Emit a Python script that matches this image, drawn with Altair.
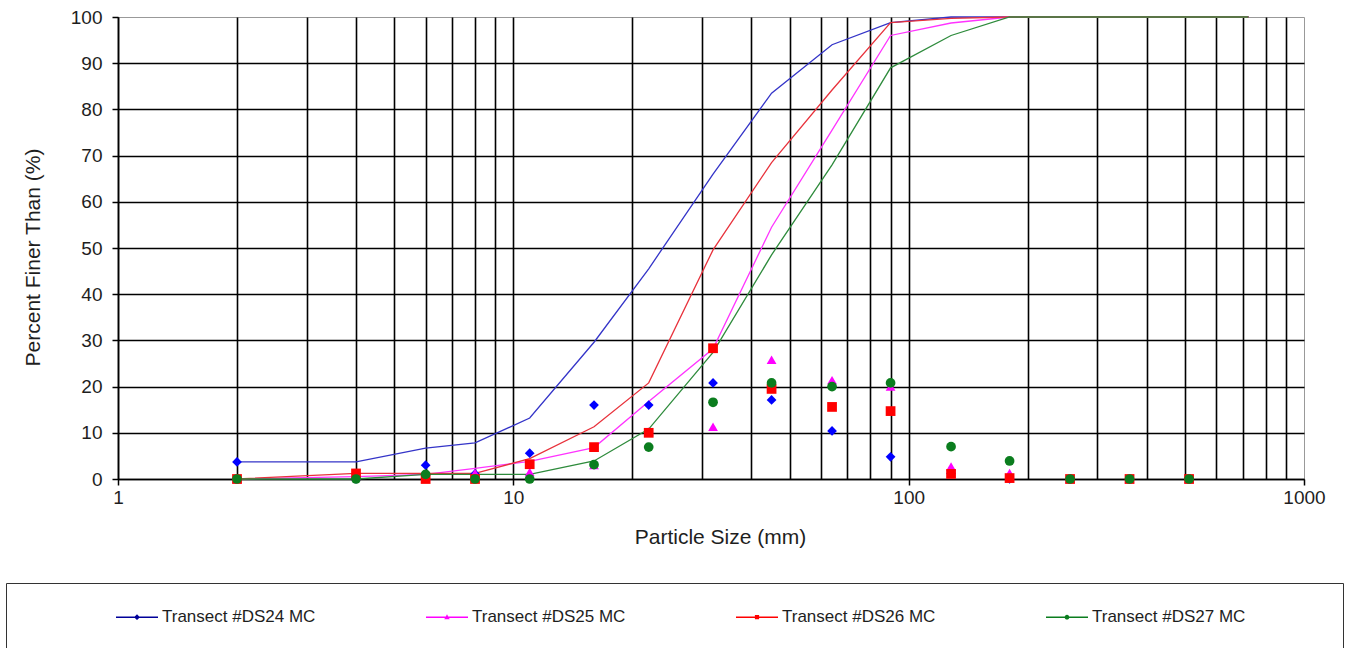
import altair as alt
import pandas as pd

# ---- data ----
sizes = [2, 4, 6, 8, 11, 16, 22, 32, 45, 64, 90, 128, 180, 256, 362, 512, 724]
series_names = ["Transect #DS24 MC", "Transect #DS25 MC", "Transect #DS26 MC", "Transect #DS27 MC"]

# cumulative percent finer (lines)
cum_ds24 = [3.7, 3.7, 6.7, 7.8, 13.2, 29.6, 45.5, 66.0, 83.5, 94.0, 98.8, 100, 100, 100, 100, 100, 100]
cum_ds25 = [0.0, 0.5, 1.0, 2.3, 3.8, 6.8, 16.8, 28.2, 54.5, 75.5, 96.0, 98.7, 100, 100, 100, 100, 100]
cum_ds26 = [0.0, 1.2, 1.2, 1.2, 4.4, 11.3, 20.8, 49.6, 68.5, 84.2, 98.8, 99.7, 100, 100, 100, 100, 100]
cum_ds27 = [0.0, 0.0, 1.0, 1.0, 1.0, 3.9, 10.8, 27.4, 48.5, 68.0, 89.0, 96.0, 100, 100, 100, 100, 100]

# percent in each class (markers)
pct_ds24 = [3.7, 0.0, 3.0, 1.1, 5.6, 16.0, 16.0, 20.8, 17.1, 10.4, 4.8, 1.2, 0.0, 0.0, 0.0, 0.0, None]
pct_ds25 = [0.0, 0.5, 0.5, 1.3, 1.5, 3.0, 10.3, 11.3, 25.8, 21.4, 20.0, 2.7, 1.3, 0.0, 0.0, 0.0, None]
pct_ds26 = [0.0, 1.2, 0.0, 0.0, 3.2, 6.9, 10.0, 28.3, 19.5, 15.6, 14.7, 1.1, 0.2, 0.0, 0.0, 0.0, None]
pct_ds27 = [0.0, 0.0, 1.0, 0.0, 0.0, 3.1, 6.9, 16.6, 20.8, 20.0, 20.8, 7.0, 3.9, 0.0, 0.0, 0.0, None]

x_grid_values = [1, 2, 3, 4, 5, 6, 7, 8, 9, 10, 20, 30, 40, 50, 60, 70, 80, 90,
                 100, 200, 300, 400, 500, 600, 700, 800, 900, 1000]
y_values = [0, 10, 20, 30, 40, 50, 60, 70, 80, 90, 100]

line_colors = ["#3434c8", "#ff33ff", "#e8323c", "#2e8b3c"]
point_colors = ["#0000ff", "#ff00ff", "#ff0000", "#0b7d1e"]
legend_colors = ["#000099", "#ff00ff", "#ff0000", "#0b7d1e"]
point_shapes = ["diamond", "triangle-up", "square", "circle"]
# legend symbol: a short line with a small marker; the lone "M0,1.7" point only
# stretches the legend frame downward past the page edge, as in the reference
bar = "M0,1.7 M-1,-0.035H1V0.035H-1Z "
legend_shapes = [
    bar + "M0,-0.14L0.14,0L0,0.14L-0.14,0Z",
    bar + "M0,-0.14L0.13,0.1L-0.13,0.1Z",
    bar + "M-0.1,-0.1H0.1V0.1H-0.1Z",
    bar + "M-0.11,0A0.11,0.11 0 1 1 0.11,0A0.11,0.11 0 1 1 -0.11,0Z",
]

rows = []
cums = [cum_ds24, cum_ds25, cum_ds26, cum_ds27]
pcts = [pct_ds24, pct_ds25, pct_ds26, pct_ds27]
for name, cum, pct in zip(series_names, cums, pcts):
    for s, c, p in zip(sizes, cum, pct):
        rows.append({"size": s, "series": name, "cum": c, "pct": p})
df = pd.DataFrame(rows)

FONT = "Liberation Sans"
TXT = "#1e1e1e"

x_scale = alt.Scale(type="log", domain=[1, 1000], nice=False)
y_scale = alt.Scale(domain=[0, 100], nice=False)

decade_test = "indexof([1,10,100,1000], datum.value) >= 0"
x_axis = alt.Axis(
    values=x_grid_values, format="d",
    labelExpr=f"{decade_test} ? datum.label : ''",
    grid=True, gridColor="black", gridWidth=1.6,
    gridOpacity={"condition": {"test": "datum.value == 1000", "value": 0}, "value": 1},
    ticks=True, tickSize=6, tickColor="black", tickWidth=1.5,
    tickOpacity={"condition": {"test": decade_test, "value": 1}, "value": 0},
    domainColor="black", domainWidth=1.5,
    labelFont=FONT, labelFontSize=19, labelColor=TXT, labelPadding=3,
    labelFlush=False, labelOverlap=False,
    title="Particle Size (mm)", titleFont=FONT, titleFontSize=21, titleFontWeight="normal",
    titleColor=TXT, titleX=602, titleY=58, titleBaseline="middle", titleAlign="center",
)
y_axis = alt.Axis(
    values=y_values, grid=True, gridColor="black", gridWidth=1.6,
    gridOpacity={"condition": {"test": "datum.value == 100", "value": 0}, "value": 1},
    tickSize=6, tickColor="black", tickWidth=1.5,
    domainColor="black", domainWidth=1.5,
    labelFont=FONT, labelFontSize=19, labelColor=TXT, labelPadding=10,
    labelFlush=False, labelOverlap=False,
    title="Percent Finer Than (%)", titleFont=FONT, titleFontSize=21, titleFontWeight="normal",
    titleColor=TXT, titleX=-85, titleY=240, titleAngle=-90, titleBaseline="middle", titleAlign="center",
)

base = alt.Chart(df)

lines = base.mark_line(strokeWidth=1.3).encode(
    x=alt.X("size:Q", scale=x_scale, axis=x_axis),
    y=alt.Y("cum:Q", scale=y_scale, axis=y_axis),
    color=alt.Color("series:N", scale=alt.Scale(domain=series_names, range=line_colors), legend=None),
    order=alt.Order("size:Q"),
)

points = base.mark_point(filled=True, size=95, opacity=1).encode(
    x=alt.X("size:Q", scale=x_scale),
    y=alt.Y("pct:Q", scale=y_scale),
    color=alt.Color("series:N", scale=alt.Scale(domain=series_names, range=point_colors), legend=None),
    shape=alt.Shape("series:N", scale=alt.Scale(domain=series_names, range=point_shapes), legend=None),
)

filler = "\u2800" * 7
leg = alt.Legend(
    title="\u00a0", titleOrient="left", titlePadding=97, titleFontSize=15,
    orient="none", legendX=-112, legendY=566,
    direction="horizontal", columns=4, columnPadding=110,
    padding=13, strokeColor="#333333", fillColor="white",
    symbolSize=1764, symbolStrokeWidth=0, symbolOpacity=1,
    labelFont=FONT, labelFontSize=17, labelColor=TXT, labelOffset=4, labelLimit=600,
    labelExpr=f"datum.label == 'Transect #DS27 MC' ? datum.label + '{filler}' : datum.label",
)

legend_layer = base.mark_point(filled=True, opacity=0, size=1764).encode(
    x=alt.X("size:Q", scale=x_scale),
    y=alt.Y("pct:Q", scale=y_scale),
    color=alt.Color("series:N", scale=alt.Scale(domain=series_names, range=legend_colors), legend=leg),
    shape=alt.Shape("series:N", scale=alt.Scale(domain=series_names, range=legend_shapes), legend=leg),
)

chart = alt.layer(lines, points, legend_layer).resolve_scale(
    color="independent", shape="independent"
).properties(
    width=1186, height=462,
    padding={"left": 118, "top": 17, "right": 47, "bottom": 169},
    autosize=alt.AutoSizeParams(type="none"),
    background="white",
).configure_view(stroke="#999999", strokeWidth=1)

chart.save("out.html", embed_options={"renderer": "svg", "actions": False})
